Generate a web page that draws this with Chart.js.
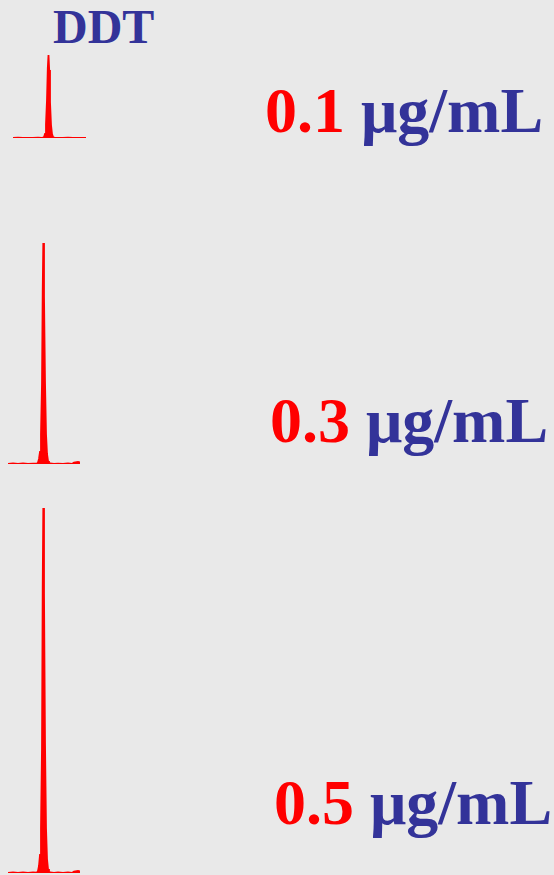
<!DOCTYPE html>
<html lang="en">
<head>
<meta charset="UTF-8">
<title>DDT chromatograms</title>
<script src="https://cdn.jsdelivr.net/npm/chart.js@4.4.4/dist/chart.umd.js"></script>
<style>
  html, body { margin: 0; padding: 0; background: #e9e9e9; }
  body { width: 554px; height: 875px; position: relative; overflow: hidden; }
  canvas { position: absolute; }
  .lbl { position: absolute; font-family: "Liberation Serif", "Times New Roman", serif;
         font-weight: bold; line-height: 1; white-space: nowrap; color: #333399; }
  .conc { color: #ff0000; }
</style>
</head>
<body>
<div class="lbl" id="compound" style="left:53px; top:3px; font-size:48px;"></div>
<canvas id="peak1" width="73" height="94" style="left:13px; top:46px;"></canvas>
<canvas id="peak2" width="72" height="234" style="left:8px; top:232px;"></canvas>
<canvas id="peak3" width="72" height="374" style="left:8px; top:501px;"></canvas>
<div class="lbl" id="lbl1" style="left:265px; top:79px; font-size:64px;"></div>
<div class="lbl" id="lbl2" style="left:270px; top:389px; font-size:64px;"></div>
<div class="lbl" id="lbl3" style="left:274px; top:771px; font-size:64px;"></div>
<script>
// texts
const compound = 'DDT';
const concentrations = ['0.1', '0.3', '0.5'];
const unit = 'μg/mL';

// retention time (min) and signal (kcounts) for each standard
const time1 = [14.00, 14.05, 14.10, 14.15, 14.20, 14.25, 14.29, 14.31, 14.32, 14.33, 14.34, 14.348, 14.355, 14.362, 14.37, 14.38, 14.39, 14.40, 14.42, 14.46, 14.50, 14.55, 14.60, 14.65, 14.70, 14.73];
const signal1 = [0, 0.3, 0, 0.2, 0, 0.3, 0, 0.8, 4, 14, 38, 70, 83, 68, 36, 13, 4, 1, 0, 0.2, 0, 0.3, 0, 0.2, 0, 0];

const time2 = [14.00, 14.05, 14.10, 14.15, 14.20, 14.25, 14.29, 14.30, 14.31, 14.32, 14.33, 14.34, 14.347, 14.353, 14.36, 14.37, 14.38, 14.39, 14.40, 14.41, 14.42, 14.46, 14.50, 14.55, 14.60, 14.64, 14.66, 14.70, 14.72];
const signal2 = [0, 0.5, 0, 0.6, 0, 0.4, 0.3, 1.5, 5, 12, 30, 80, 172, 221, 168, 82, 30, 10, 3, 1, 0.5, 0, 0.4, 0, 0.5, 0, 1.5, 2, 1.5];

const time3 = [14.00, 14.05, 14.10, 14.15, 14.20, 14.25, 14.29, 14.30, 14.31, 14.32, 14.33, 14.34, 14.347, 14.353, 14.36, 14.37, 14.38, 14.39, 14.40, 14.41, 14.42, 14.46, 14.50, 14.55, 14.60, 14.64, 14.66, 14.70, 14.72];
const signal3 = [0, 0.6, 0, 0.7, 0, 0.5, 0.4, 2, 7, 18, 45, 125, 285, 365, 280, 130, 45, 14, 4, 1.2, 0.6, 0, 0.5, 0, 0.6, 0, 1.5, 2, 1.5];

document.getElementById('compound').textContent = compound;
concentrations.forEach((c, i) => {
  document.getElementById('lbl' + (i + 1)).innerHTML =
    '<span class="conc">' + c + '</span> ' + unit;
});

function drawPeak(id, time, signal, xmax, ymax) {
  const ctx = document.getElementById(id).getContext('2d');
  return new Chart(ctx, {
    type: 'line',
    data: {
      datasets: [{
        data: time.map((t, i) => ({ x: t, y: signal[i] })),
        borderColor: '#ff0000',
        backgroundColor: '#ff0000',
        borderWidth: 1.8,
        fill: 'origin',
        pointRadius: 0,
        tension: 0
      }]
    },
    options: {
      responsive: false,
      animation: false,
      layout: { padding: { top: 2, bottom: 2, left: 0, right: 0 } },
      plugins: { legend: { display: false }, tooltip: { enabled: false } },
      scales: {
        x: { type: 'linear', display: false, min: 14.00, max: xmax },
        y: { display: false, min: 0, max: ymax }
      }
    }
  });
}

drawPeak('peak1', time1, signal1, 14.73, 90);
drawPeak('peak2', time2, signal2, 14.72, 230);
drawPeak('peak3', time3, signal3, 14.72, 370);
</script>
</body>
</html>
